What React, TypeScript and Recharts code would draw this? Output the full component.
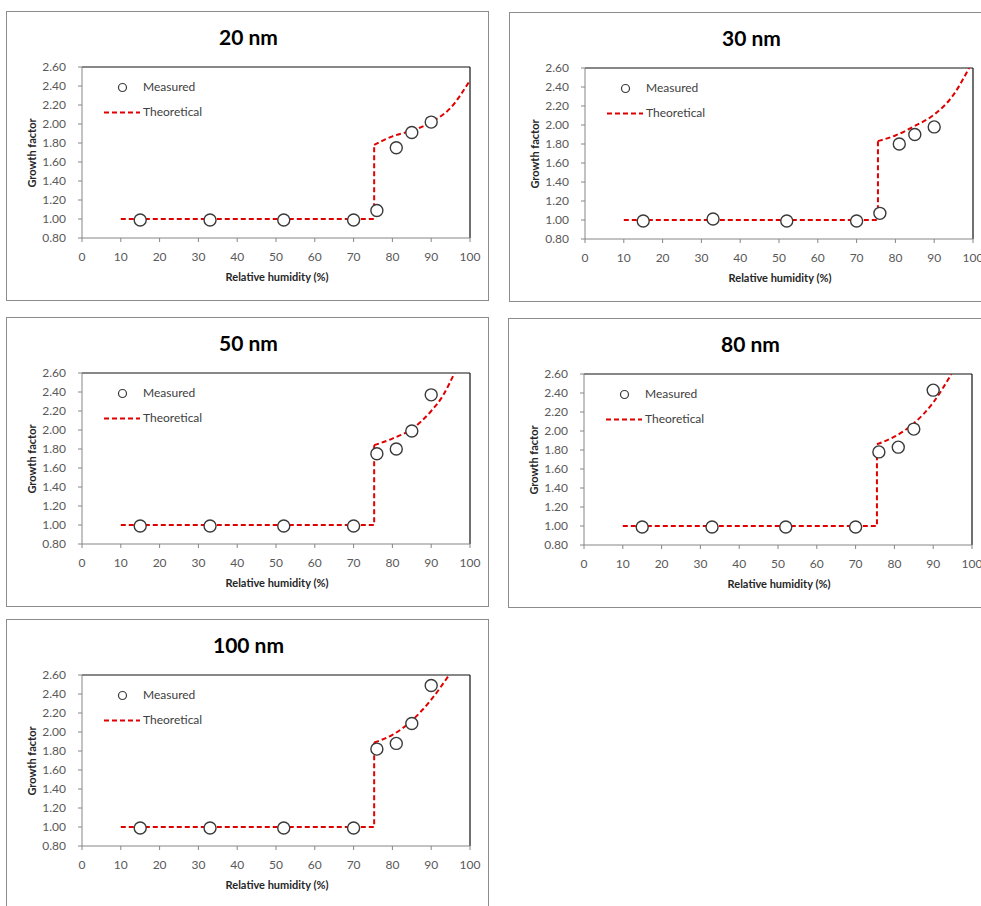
import React from 'react';
import { ComposedChart, Line, ReferenceLine, Scatter, XAxis, YAxis } from 'recharts';

// ─── Data ────────────────────────────────────────────────────────────

const RH_MEASURED = [15, 33, 52, 70, 76, 81, 85, 90];

const GF_20 = [0.99, 0.99, 0.99, 0.99, 1.09, 1.75, 1.91, 2.02];
const GF_30 = [0.99, 1.01, 0.99, 0.99, 1.07, 1.8, 1.9, 1.98];
const GF_50 = [0.99, 0.99, 0.99, 0.99, 1.75, 1.8, 1.99, 2.37];
const GF_80 = [0.99, 0.99, 0.99, 0.99, 1.78, 1.83, 2.02, 2.43];
const GF_100 = [0.99, 0.99, 0.99, 0.99, 1.82, 1.88, 2.09, 2.49];

// theoretical: flat part + jump, then the growth curve
const THEO_START_X = 10;
const THEO_FLAT_Y = 1.0;

const THEO_20_X = [75.3, 80, 85, 90, 95, 100];
const THEO_20_Y = [1.78, 1.87, 1.93, 2.02, 2.17, 2.46];
const THEO_30_X = [75.5, 80, 85, 90, 95, 99];
const THEO_30_Y = [1.83, 1.89, 1.99, 2.11, 2.32, 2.6];
const THEO_50_X = [75.3, 80, 85, 90, 93, 96];
const THEO_50_Y = [1.84, 1.91, 2.01, 2.2, 2.36, 2.6];
const THEO_80_X = [75.5, 80, 85, 90, 94.7];
const THEO_80_Y = [1.86, 1.94, 2.08, 2.3, 2.6];
const THEO_100_X = [75.3, 80, 85, 90, 94.6];
const THEO_100_Y = [1.89, 1.97, 2.12, 2.34, 2.6];

const X_TICKS = [0, 10, 20, 30, 40, 50, 60, 70, 80, 90, 100];
const Y_TICKS = [0.8, 1.0, 1.2, 1.4, 1.6, 1.8, 2.0, 2.2, 2.4, 2.6];

// ─── Layout ──────────────────────────────────────────────────────────

const PANEL_W = 483;
const PANEL_H = 290;
const FONT = 'Lato, "Open Sans", sans-serif';
const RED = '#e00000';
const DASH = '5 3';

interface PanelSpec {
  title: string;
  left: number;
  top: number;
  gf: number[];
  theoX: number[];
  theoY: number[];
}

const PANELS: PanelSpec[] = [
  { title: '20 nm', left: 6, top: 11, gf: GF_20, theoX: THEO_20_X, theoY: THEO_20_Y },
  { title: '30 nm', left: 509, top: 12, gf: GF_30, theoX: THEO_30_X, theoY: THEO_30_Y },
  { title: '50 nm', left: 6, top: 317, gf: GF_50, theoX: THEO_50_X, theoY: THEO_50_Y },
  { title: '80 nm', left: 508, top: 318, gf: GF_80, theoX: THEO_80_X, theoY: THEO_80_Y },
  { title: '100 nm', left: 6, top: 619, gf: GF_100, theoX: THEO_100_X, theoY: THEO_100_Y },
];

const Circle = (props: any) => {
  const { cx, cy } = props;
  if (cx == null || cy == null) return null;
  return <circle cx={cx} cy={cy} r={6} fill="#fff" stroke="#3a3a3a" strokeWidth={1.4} />;
};

const labelStyle: React.CSSProperties = {
  position: 'absolute',
  left: 136,
  fontSize: 12,
  color: '#404040',
  lineHeight: '16px',
};

const Panel: React.FC<{ spec: PanelSpec }> = ({ spec }) => {
  const measured = RH_MEASURED.map((x, i) => ({ x, y: spec.gf[i] }));
  const jumpX = spec.theoX[0];
  const step = [
    { x: THEO_START_X, y: THEO_FLAT_Y },
    { x: jumpX, y: THEO_FLAT_Y },
    { x: jumpX, y: spec.theoY[0] },
  ];
  const curve = spec.theoX.map((x, i) => ({ x, y: spec.theoY[i] }));

  return (
    <div
      style={{
        position: 'absolute',
        left: spec.left,
        top: spec.top,
        width: PANEL_W,
        height: PANEL_H,
        border: '1px solid #8c8c8c',
        boxSizing: 'border-box',
        background: '#fff',
        fontFamily: FONT,
      }}
    >
      <div
        style={{
          position: 'absolute',
          left: 0,
          width: PANEL_W,
          top: 12,
          textAlign: 'center',
          fontSize: 21,
          fontWeight: 700,
          color: '#000',
          lineHeight: '26px',
        }}
      >
        {spec.title}
      </div>

      <div style={{ position: 'absolute', left: -1, top: -1 }}>
        <ComposedChart
          width={PANEL_W}
          height={PANEL_H}
          margin={{ top: 56, right: 19, bottom: 0, left: 0 }}
        >
          <XAxis
            dataKey="x"
            type="number"
            domain={[0, 100]}
            ticks={X_TICKS}
            interval={0}
            allowDataOverflow
            height={63}
            tickSize={4}
            tickMargin={10}
            stroke="#868686"
            tick={{ fontSize: 12, fill: '#595959', fontFamily: FONT }}
          />
          <YAxis
            dataKey="y"
            type="number"
            domain={[0.8, 2.6]}
            ticks={Y_TICKS}
            interval={0}
            allowDataOverflow
            width={76}
            tickSize={4}
            tickMargin={12}
            stroke="#868686"
            tickFormatter={(v: number) => v.toFixed(2)}
            tick={{ fontSize: 12, fill: '#595959', fontFamily: FONT }}
          />
          <ReferenceLine y={2.6} stroke="#111" strokeWidth={1.2} />
          <ReferenceLine x={100} stroke="#111" strokeWidth={1.2} />

          <Line
            data={step}
            dataKey="y"
            type="linear"
            stroke={RED}
            strokeWidth={2}
            strokeDasharray={DASH}
            dot={false}
            isAnimationActive={false}
          />
          <Line
            data={curve}
            dataKey="y"
            type="monotone"
            stroke={RED}
            strokeWidth={2}
            strokeDasharray={DASH}
            dot={false}
            isAnimationActive={false}
          />
          <Scatter data={measured} dataKey="y" shape={<Circle />} isAnimationActive={false} />
        </ComposedChart>
      </div>

      {/* legend */}
      <svg
        style={{ position: 'absolute', left: 90, top: 64, overflow: 'visible' }}
        width={50}
        height={50}
      >
        <circle cx={25.5} cy={11.5} r={4} fill="#fff" stroke="#3a3a3a" strokeWidth={1.2} />
        <line x1={7} y1={36.5} x2={43} y2={36.5} stroke={RED} strokeWidth={2} strokeDasharray={DASH} />
      </svg>
      <div style={{ ...labelStyle, top: 67 }}>Measured</div>
      <div style={{ ...labelStyle, top: 92 }}>Theoretical</div>

      {/* axis titles */}
      <div
        style={{
          position: 'absolute',
          left: 76,
          width: 388,
          top: 258,
          textAlign: 'center',
          fontSize: 11,
          fontWeight: 700,
          color: '#262626',
          lineHeight: '14px',
        }}
      >
        Relative humidity (%)
      </div>
      <div style={{ position: 'absolute', left: 25, top: 141, width: 0, height: 0 }}>
        <div
          style={{
            position: 'absolute',
            left: -60,
            top: -7,
            width: 120,
            textAlign: 'center',
            fontSize: 11,
            fontWeight: 700,
            color: '#262626',
            lineHeight: '14px',
            transform: 'rotate(-90deg)',
          }}
        >
          Growth factor
        </div>
      </div>
    </div>
  );
};

const App: React.FC = () => (
  <div
    style={{
      position: 'absolute',
      left: 0,
      top: 0,
      width: 981,
      height: 906,
      overflow: 'hidden',
      background: '#fff',
    }}
  >
    {PANELS.map((p) => (
      <Panel key={p.title} spec={p} />
    ))}
  </div>
);

export default App;
